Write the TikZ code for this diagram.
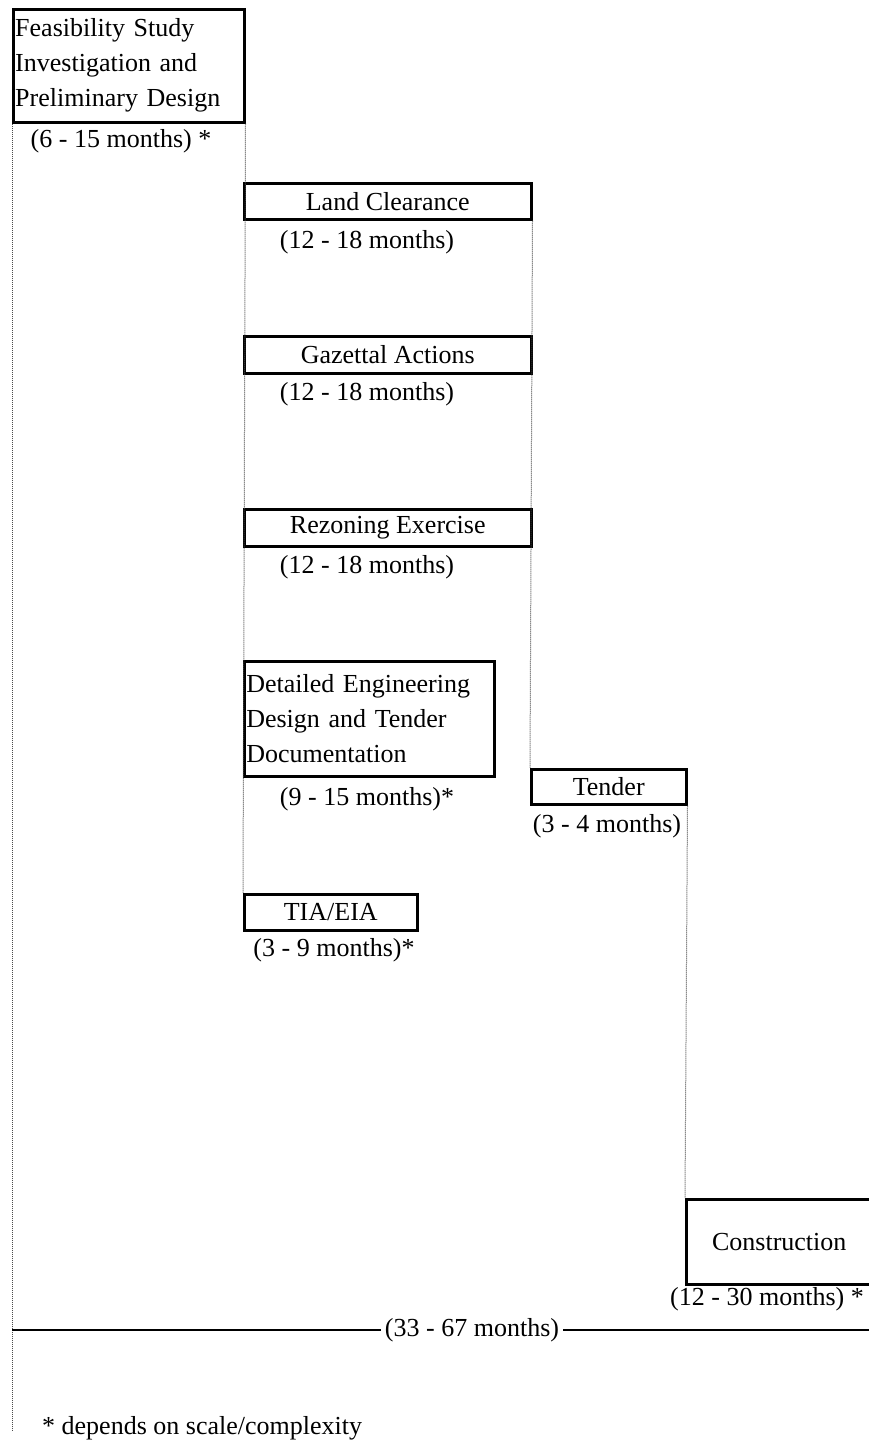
\documentclass[tikz,border=0pt]{standalone}
\usepackage{fontspec}
\setmainfont{Liberation Serif}
\begin{document}
\begin{tikzpicture}[x=1pt,y=-1pt,
  font=\fontsize{26}{35}\selectfont,
  box/.style={draw, line width=2.5pt, inner sep=0pt, anchor=north west},
  lbl/.style={inner sep=0pt},
  guide/.style={draw=black!70, line width=1pt, dash pattern=on 1pt off 1pt},
  total/.style={draw, line width=2.5pt}]
\useasboundingbox (0,0) rectangle (869,1443);

% free end of the leftmost guide
\coordinate (end0) at (12,1430);

% stage boxes
\node[box, minimum width=231pt, minimum height=113pt, text width=227pt, align=left]
  (fs) at (12,8) {Feasibility Study\\Investigation and\\Preliminary Design};
\node[box, minimum width=287pt, minimum height=36pt] (lc) at (243,182) {Land Clearance};
\node[box, minimum width=287pt, minimum height=37pt] (ga) at (243,335) {Gazettal Actions};
\node[box, minimum width=287pt, minimum height=37pt] (rz) at (243,508) {Rezoning Exercise};
\node[box, minimum width=250pt, minimum height=115pt, text width=246pt, align=left]
  (de) at (243,660) {Detailed Engineering\\Design and Tender\\Documentation};
\node[box, minimum width=173pt, minimum height=36pt] (tia) at (243,893) {TIA/EIA};
\node[box, minimum width=155pt, minimum height=35pt] (td) at (530,768) {Tender};
\node[box, minimum width=186pt, minimum height=85pt] (co) at (685,1198) {Construction};

% guides between stages
\draw[guide] (fs.south west) -- (end0);
\draw[guide] (fs.south east) -- (tia.north west);
\draw[guide] (lc.south east) -- (td.north west);
\draw[guide] (td.south east) -- (co.north west);

% durations
\node[lbl] (fsl) at (121,141) {(6 - 15 months) *};
\node[lbl] (lcl) at (367,242) {(12 - 18 months)};
\node[lbl] (gal) at (367,394) {(12 - 18 months)};
\node[lbl] (rzl) at (367,567) {(12 - 18 months)};
\node[lbl] (del) at (367,799) {(9 - 15 months)*};
\node[lbl] (tial) at (334,950) {(3 - 9 months)*};
\node[lbl] (tdl) at (607,826) {(3 - 4 months)};
\node[lbl] (col) at (767,1299) {(12 - 30 months) *};

% overall duration bar
\coordinate (tl) at (12,1330);
\coordinate (tr) at (869,1330);
\node[lbl, inner xsep=4pt] (tot) at (472,1330) {(33 - 67 months)};
\draw[total] (tl) -- (tot.west);
\draw[total] (tot.east) -- (tr);

% footnote
\node[lbl, anchor=west] (foot) at (42,1428) {* depends on scale/complexity};
\end{tikzpicture}
\end{document}
